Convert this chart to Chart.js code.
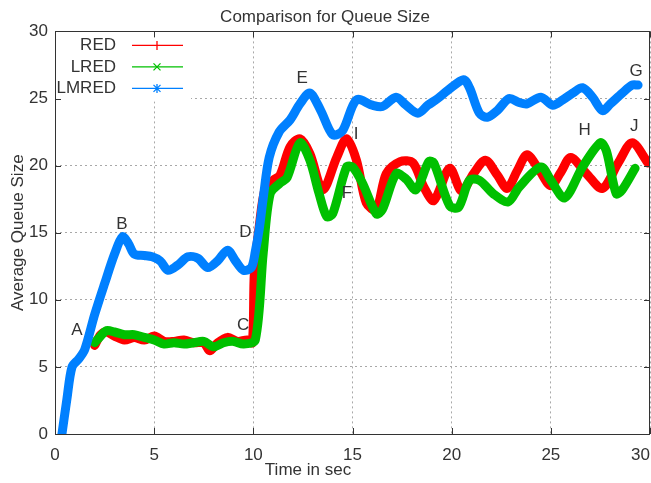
<!DOCTYPE html>
<html>
<head>
<meta charset="utf-8">
<title>Comparison for Queue Size</title>
<script src="https://cdn.jsdelivr.net/npm/chart.js@4.4.0/dist/chart.umd.min.js"></script>
<style>
  body { margin: 0; background: #fff; }
  #chart { display: block; }
</style>
</head>
<body>
<canvas id="chart" width="651" height="483"></canvas>
<script>
// time in sec / average queue size
const redTime = [2.0, 2.3, 2.6, 3.0, 3.5, 4.0, 4.5, 5.0, 5.5, 6.0, 6.5, 7.0, 7.5, 7.8, 8.2, 8.7, 9.2, 9.7, 9.95, 10.05,
  10.3, 10.6, 11.0, 11.35, 11.85, 12.35, 12.85, 13.5, 14.2, 14.7, 15.2, 15.7, 16.2, 16.7, 17.4, 18.05, 18.6, 19.1, 19.9, 20.5,
  21.1, 21.7, 22.3, 22.8, 23.3, 23.8, 24.4, 25.0, 25.5, 26.0, 26.8, 27.6, 28.4, 29.1, 29.9];
const redQueue = [6.6, 7.4, 7.6, 7.3, 7.0, 7.2, 7.0, 7.3, 6.9, 6.9, 7.0, 6.8, 6.8, 6.2, 6.8, 7.2, 6.9, 7.0, 6.8, 12.0,
  15.5, 18.3, 18.9, 19.3, 21.4, 22.0, 20.9, 18.2, 20.6, 22.0, 20.4, 17.2, 16.7, 19.4, 20.3, 20.2, 18.4, 17.4, 19.8, 18.1,
  19.4, 20.4, 19.3, 18.3, 19.6, 20.8, 19.7, 18.5, 19.5, 20.6, 19.4, 18.3, 20.2, 21.7, 20.2];

const lredTime = [2.0, 2.3, 2.6, 3.0, 3.5, 4.0, 4.5, 5.0, 5.5, 6.0, 6.5, 7.0, 7.5, 8.0, 8.5, 9.0, 9.5, 10.1, 10.5, 10.85,
  11.35, 11.7, 12.35, 12.85, 13.3, 13.7, 14.0, 14.7, 15.0, 15.5, 16.2, 16.5, 17.2, 17.7, 18.2, 18.85, 19.1, 19.9, 20.35, 20.9,
  21.4, 22.1, 22.85, 23.4, 24.5, 25.0, 25.7, 26.6, 27.5, 27.8, 28.3, 28.6, 29.25];
const lredQueue = [6.8, 7.3, 7.7, 7.6, 7.4, 7.4, 7.2, 7.0, 6.7, 6.8, 6.7, 6.8, 6.9, 6.5, 6.8, 6.9, 6.7, 7.0, 13.5, 17.9,
  18.7, 19.1, 21.7, 20.4, 18.0, 16.2, 16.4, 19.9, 19.9, 18.7, 16.4, 16.7, 19.4, 19.0, 18.2, 20.3, 20.2, 17.0, 16.9, 18.9,
  18.9, 17.9, 17.3, 18.4, 19.9, 18.9, 17.6, 19.9, 21.7, 21.1, 17.9, 18.2, 19.8];

const lmredTime = [0.35, 0.6, 0.86, 1.2, 1.5, 2.0, 2.5, 3.0, 3.4, 3.7, 4.0, 4.5, 4.9, 5.3, 5.7, 6.2, 6.7, 7.2, 7.7, 8.2,
  8.7, 9.1, 9.5, 9.9, 10.1, 10.3, 10.5, 10.8, 11.3, 11.85, 12.35, 12.85, 13.4, 14.0, 14.5, 15.2, 16.0, 16.5, 17.2, 17.7,
  18.3, 18.8, 19.3, 19.8, 20.6, 20.9, 21.4, 21.8, 22.3, 22.9, 23.4, 23.8, 24.5, 25.1, 25.6, 26.1, 26.6, 27.1, 27.6, 28.0,
  28.6, 29.1, 29.4];
const lmredQueue = [0, 2.6, 5.0, 5.6, 6.3, 8.9, 11.2, 13.4, 14.7, 14.2, 13.4, 13.3, 13.2, 12.9, 12.2, 12.6, 13.2, 13.1, 12.4, 12.9,
  13.7, 12.9, 12.2, 12.4, 13.6, 15.3, 17.6, 20.6, 22.5, 23.4, 24.6, 25.4, 24.1, 22.3, 22.6, 24.9, 24.5, 24.4, 25.1, 24.5,
  23.9, 24.5, 25.0, 25.6, 26.4, 25.8, 23.9, 23.6, 24.1, 25.0, 24.7, 24.6, 25.1, 24.5, 24.9, 25.4, 25.8, 25.1, 24.1, 24.6,
  25.4, 26.0, 26.0];

const seriesNames = ['RED', 'LRED', 'LMRED'];
const seriesColors = ['#ff0000', '#00c000', '#0080ff'];
const seriesMarks = ['+', 'x', '*'];

// letters written on the plot (time, queue size)
const noteLetters = ['A', 'B', 'C', 'D', 'E', 'F', 'I', 'H', 'J', 'G'];
const noteTime = [1.1, 3.38, 9.48, 9.6, 12.46, 14.72, 15.18, 26.7, 29.2, 29.3];
const noteQueue = [7.7, 15.6, 8.1, 15.0, 26.5, 17.9, 22.3, 22.6, 22.9, 27.0];

const FONT_FAMILY = '"Liberation Sans", Arial, sans-serif';
const FONT = '17px ' + FONT_FAMILY;
const TEXT = '#333';

function toPoints(ts, qs) {
  return ts.map((t, i) => ({ x: t, y: qs[i] }));
}

function drawMark(ctx, kind, x, y) {
  const r = 4.5;
  ctx.beginPath();
  if (kind === '+' || kind === '*') {
    ctx.moveTo(x, y - r); ctx.lineTo(x, y + r);
  }
  if (kind === 'x' || kind === '*') {
    ctx.moveTo(x - r + 1, y - r + 1); ctx.lineTo(x + r - 1, y + r - 1);
    ctx.moveTo(x - r + 1, y + r - 1); ctx.lineTo(x + r - 1, y - r + 1);
  }
  ctx.stroke();
}

// gnuplot-ish frame, inward ticks, key, letters and axis labels
const gnuplotLook = {
  id: 'gnuplotLook',
  beforeDatasetsDraw(chart) {
    const ctx = chart.ctx;
    const a = chart.chartArea;
    ctx.save();
    ctx.fillStyle = '#fff';
    ctx.fillRect(a.left + 1, a.top + 1, 135, 69);
    ctx.font = FONT;
    ctx.textAlign = 'right';
    ctx.textBaseline = 'middle';
    chart.data.datasets.forEach((ds, i) => {
      const y = a.top + 14 + i * 21.5;
      ctx.fillStyle = TEXT;
      ctx.fillText(ds.label, a.left + 61, y);
      ctx.strokeStyle = ds.borderColor;
      ctx.lineWidth = 1.3;
      ctx.beginPath();
      ctx.moveTo(a.left + 77, y);
      ctx.lineTo(a.left + 128, y);
      ctx.stroke();
      drawMark(ctx, seriesMarks[i], a.left + 102, y);
    });
    ctx.restore();
  },
  afterDraw(chart) {
    const ctx = chart.ctx;
    const a = chart.chartArea;
    const xs = chart.scales.x;
    const ys = chart.scales.y;
    ctx.save();
    ctx.strokeStyle = '#333';
    ctx.lineWidth = 1;
    ctx.strokeRect(Math.round(a.left) + 0.5, Math.round(a.top) + 0.5,
      Math.round(a.right - a.left) - 1, Math.round(a.bottom - a.top));
    ctx.beginPath();
    xs.ticks.forEach(t => {
      const px = Math.round(xs.getPixelForValue(t.value)) + 0.5;
      ctx.moveTo(px, a.bottom); ctx.lineTo(px, a.bottom - 6);
      ctx.moveTo(px, a.top); ctx.lineTo(px, a.top + 6);
    });
    ys.ticks.forEach(t => {
      const py = Math.round(ys.getPixelForValue(t.value)) + 0.5;
      ctx.moveTo(a.left, py); ctx.lineTo(a.left + 6, py);
      ctx.moveTo(a.right, py); ctx.lineTo(a.right - 6, py);
    });
    ctx.stroke();

    ctx.font = FONT;
    ctx.fillStyle = TEXT;
    ctx.textAlign = 'center';
    ctx.textBaseline = 'middle';
    // x tick labels, kept inside the canvas at the right end
    xs.ticks.forEach(t => {
      const label = String(t.value);
      const w = ctx.measureText(label).width;
      const px = Math.min(xs.getPixelForValue(t.value), chart.width - w / 2 - 1);
      ctx.fillText(label, px, a.bottom + 21);
    });
    noteLetters.forEach((s, i) => {
      ctx.fillText(s, xs.getPixelForValue(noteTime[i]), ys.getPixelForValue(noteQueue[i]));
    });
    ctx.fillText('Time in sec', a.left + 253, a.bottom + 36);
    ctx.translate(18, (a.top + a.bottom) / 2);
    ctx.rotate(-Math.PI / 2);
    ctx.fillText('Average Queue Size', 0, 0);
    ctx.restore();
  }
};

const times = [redTime, lredTime, lmredTime];
const queues = [redQueue, lredQueue, lmredQueue];

new Chart(document.getElementById('chart'), {
  type: 'line',
  data: {
    datasets: seriesNames.map((name, i) => ({
      label: name,
      data: toPoints(times[i], queues[i]),
      borderColor: seriesColors[i],
      backgroundColor: seriesColors[i],
      order: 3 - i
    }))
  },
  options: {
    responsive: false,
    animation: false,
    layout: { padding: { right: 1 } },
    elements: {
      point: { radius: 0 },
      line: { borderWidth: 9, tension: 0.3, borderCapStyle: 'round', borderJoinStyle: 'round' }
    },
    plugins: {
      legend: { display: false },
      tooltip: { enabled: false },
      title: {
        display: true,
        text: 'Comparison for Queue Size',
        color: TEXT,
        font: { family: FONT_FAMILY, size: 17, weight: 'normal' },
        padding: { top: 7, bottom: 4 }
      }
    },
    scales: {
      x: {
        type: 'linear',
        min: 0,
        max: 30,
        ticks: { stepSize: 5, display: false },
        grid: { color: '#a8a8a8', drawTicks: false },
        border: { display: false, dash: [2, 3] },
        afterFit(s) { s.height = 49; s.paddingLeft = 0; s.paddingRight = 0; }
      },
      y: {
        min: 0,
        max: 30,
        ticks: { stepSize: 5, padding: 7, color: TEXT, font: { family: FONT_FAMILY, size: 17 } },
        grid: { color: '#a8a8a8', drawTicks: false },
        border: { display: false, dash: [2, 3] },
        afterFit(s) { s.width = 55; s.paddingTop = 0; s.paddingBottom = 0; }
      }
    }
  },
  plugins: [gnuplotLook]
});
</script>
</body>
</html>
